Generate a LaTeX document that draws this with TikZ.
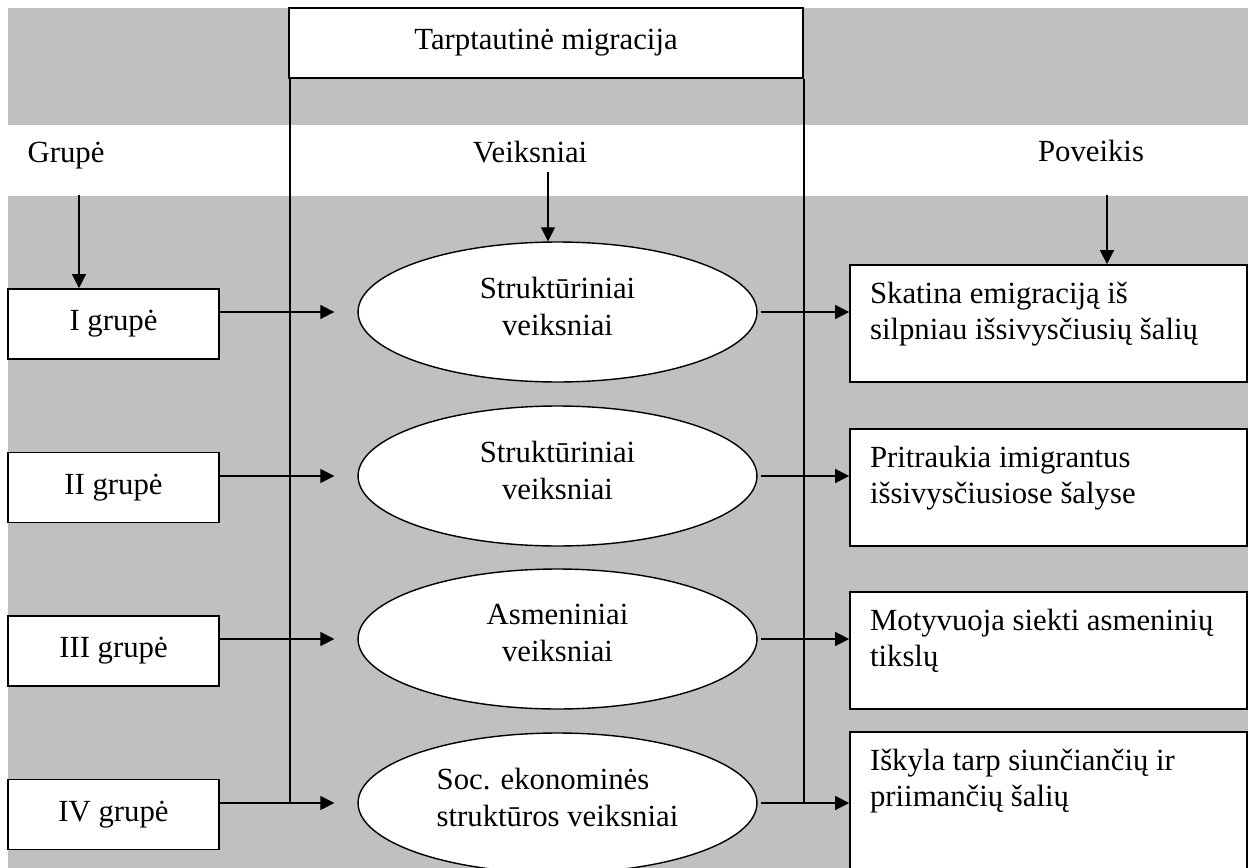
\documentclass[tikz,border=0pt]{standalone}
\usepackage{fontspec}
\setmainfont{Liberation Serif}
\usetikzlibrary{arrows.meta,shapes.geometric}
\definecolor{bandgrey}{RGB}{192,192,192}
\tikzset{
  px/.style={x=0.02cm,y=-0.02cm},
  txt/.style={font=\fontsize{17.5}{21}\selectfont},
  gbox/.style={draw, line width=1pt, fill=white, minimum width=4.22cm, minimum height=1.4cm, inner sep=0pt, txt},
  fact/.style={ellipse, draw, line width=0.8pt, fill=white, minimum width=7.98cm, minimum height=2.8cm, inner sep=0pt, align=center, txt},
  effbox/.style={draw, line width=1pt, fill=white, minimum width=7.94cm, inner sep=0pt, txt},
  conn/.style={line width=0.8pt},
  arr/.style={conn, -{Triangle[length=8pt,width=8pt]}},
  head/.style={anchor=base, txt, inner sep=0pt},
}
\newcommand{\effecttext}[2]{\parbox[c][#1][t]{7.14cm}{\raggedright\rule{0pt}{0.76cm}#2}}
\newcommand{\lowstrut}{\rule[-0.24cm]{0pt}{0pt}}
\begin{document}
\begin{tikzpicture}[px]
\useasboundingbox (0,0) rectangle (1250,868);
\clip (0,0) rectangle (1250,868);
\fill[bandgrey] (8,8) rectangle (1248,125);
\fill[bandgrey] (8,196) rectangle (1248,868);

\node[gbox, minimum width=10.28cm] (top) at (546,43) {Tarptautinė migracija};

\node[head] (lg) at (66,163) {Grupė};
\node[head] (lv) at (530,163) {Veiksniai};
\node[head] (lp) at (1091,162) {Poveikis};

\node[gbox] (g1) at (113.5,324) {I grupė};
\node[gbox] (g2) at (113.5,487.5) {II grupė};
\node[gbox] (g3) at (113.5,651) {III grupė};
\node[gbox] (g4) at (113.5,814.5) {IV grupė};

\node[fact] (e1) at (557.5,312) {Struktūriniai\\veiksniai\lowstrut};
\node[fact] (e2) at (557.5,476) {Struktūriniai\\veiksniai\lowstrut};
\node[fact] (e3) at (557.5,639) {Asmeniniai\\veiksniai\lowstrut};
\node[fact, align=left] (e4) at (557.5,803) {Soc. ekonominės\\struktūros veiksniai\lowstrut};

\node[effbox, minimum height=2.34cm] (r1) at (1048.5,323.5) {\effecttext{2.34cm}{Skatina emigraciją iš\\silpniau išsivysčiusių šalių}};
\node[effbox, minimum height=2.34cm] (r2) at (1048.5,487.5) {\effecttext{2.34cm}{Pritraukia imigrantus\\išsivysčiusiose šalyse}};
\node[effbox, minimum height=2.34cm] (r3) at (1048.5,650.5) {\effecttext{2.34cm}{Motyvuoja siekti asmeninių\\tikslų}};
\node[effbox, minimum height=3cm] (r4) at (1048.5,807) {\effecttext{3cm}{Iškyla tarp siunčiančių ir\\priimančių šalių}};

\coordinate (tl) at ([xshift=0.04cm]top.south west);
\draw[conn] (tl) -- (tl |- e4.west);
\draw[conn] (top.south east) -- (top.south east |- e4.east);

\foreach \i in {1,2,3,4}{
  \draw[arr] (g\i.east |- e\i.west) -- ([xshift=-0.46cm]e\i.west);
  \draw[arr] ([xshift=0.06cm]e\i.east) -- (e\i.east -| r\i.west);
}

\coordinate (ga) at (79,195);
\draw[arr] (ga) -- (ga |- g1.north);
\coordinate (va) at (548,172);
\draw[arr] (va) -- (va |- e1.north);
\coordinate (pa) at (1107,195);
\draw[arr] (pa) -- (pa |- r1.north);
\end{tikzpicture}
\end{document}
